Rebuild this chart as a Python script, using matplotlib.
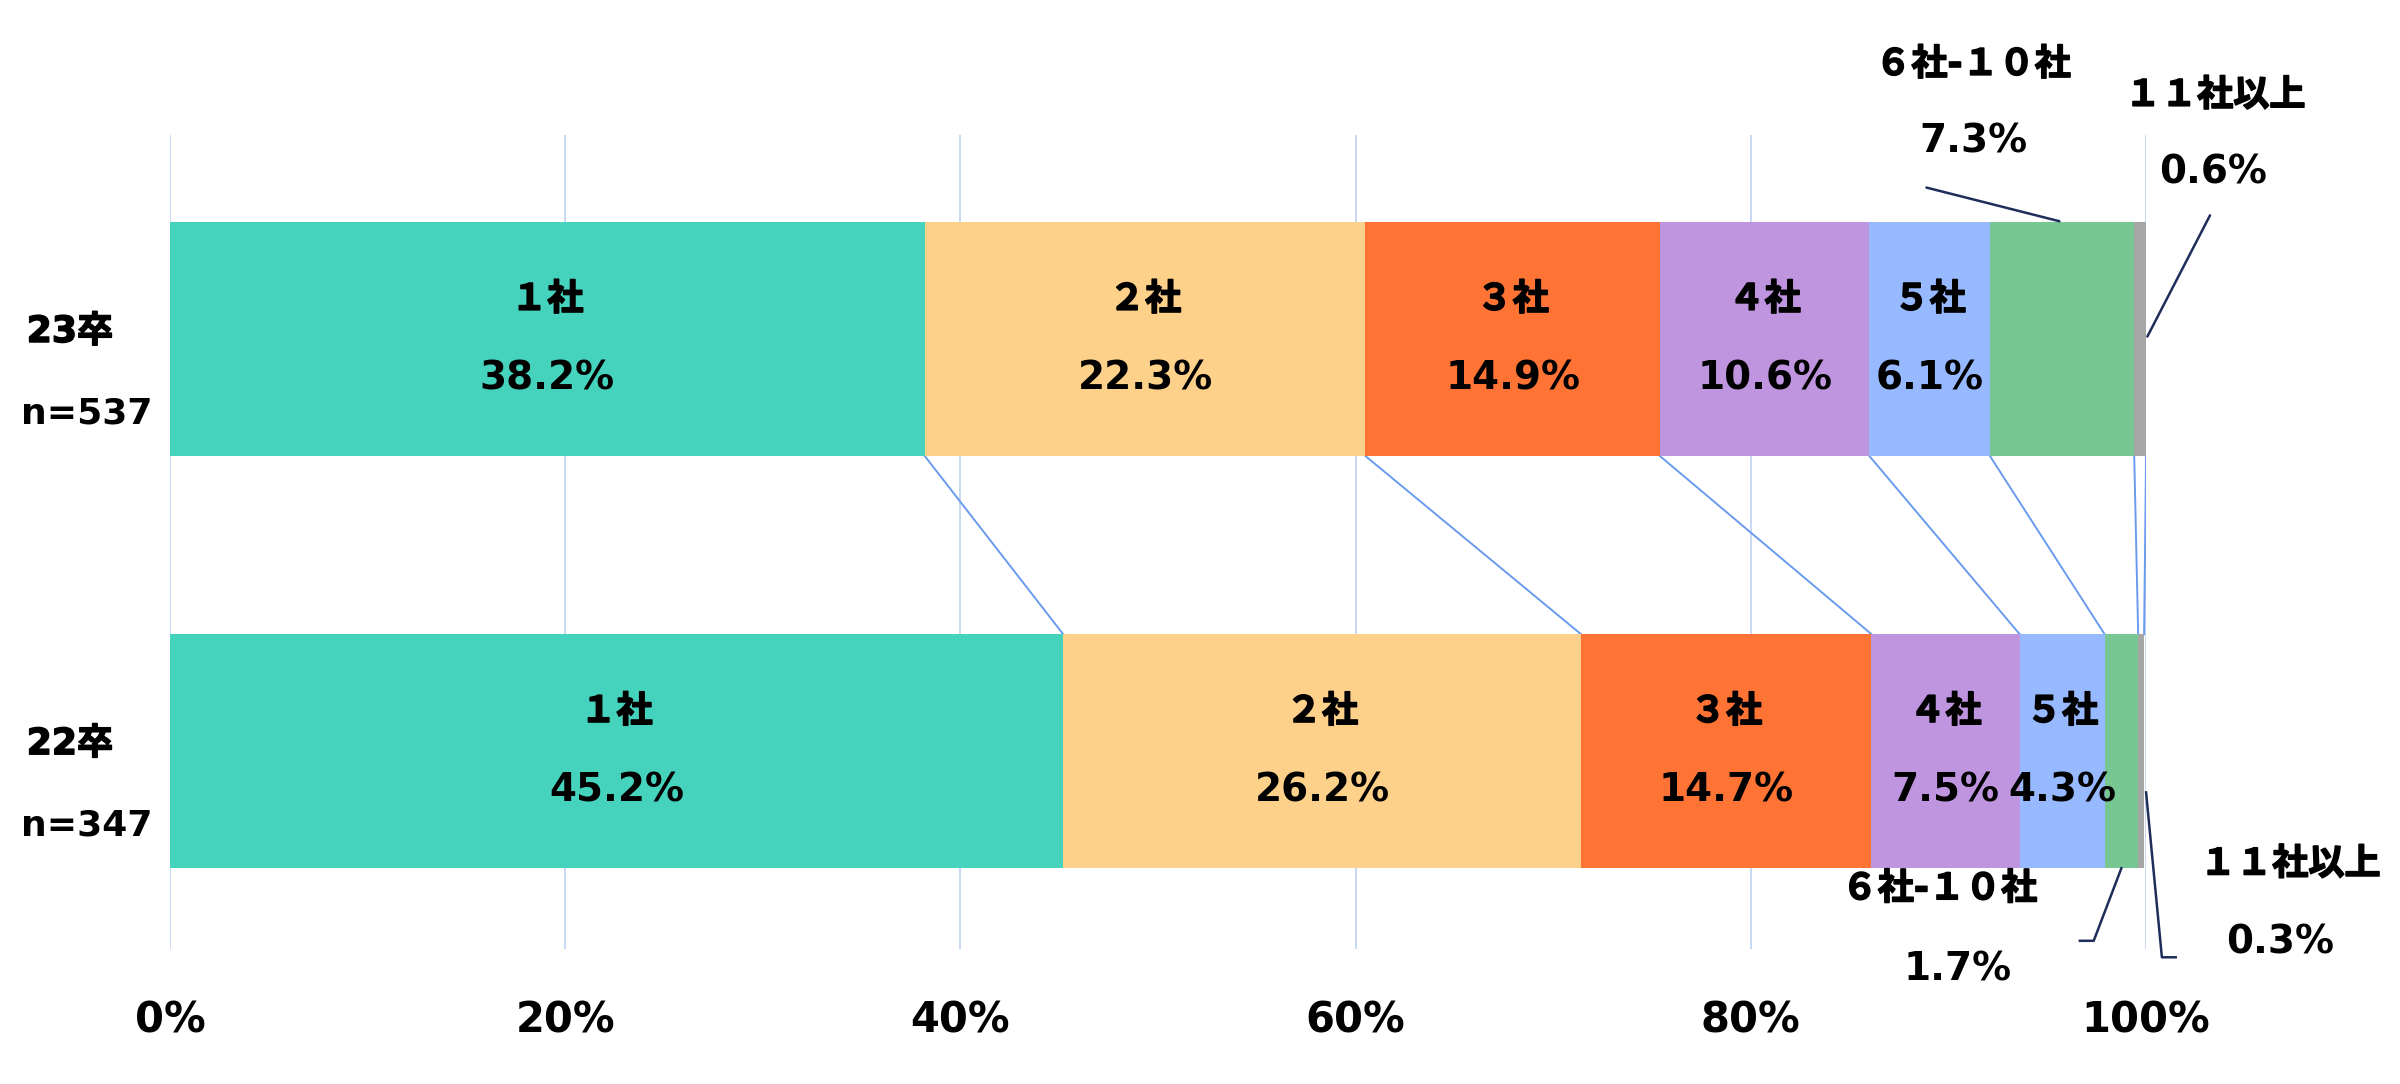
import numpy as np
import matplotlib
matplotlib.use("Agg")
import matplotlib.pyplot as plt
import matplotlib.patheffects as pe

plt.rcParams['font.family'] = ['DejaVu Sans', 'Noto Sans CJK JP']
plt.rcParams['font.weight'] = 'bold'

# data
groups = ['23卒', '22卒']
n_labels = ['n=537', 'n=347']
categories = ['１社', '２社', '３社', '４社', '５社', '６社-１０社', '１１社以上']
vals_23 = [38.2, 22.3, 14.9, 10.6, 6.1, 7.3, 0.6]
vals_22 = [45.2, 26.2, 14.7, 7.5, 4.3, 1.7, 0.3]
colors = ['#45D3BE', '#FDD18A', '#FF7335', '#BF95DF', '#97B9FF', '#77C793', '#A6A6A6']
ticks = [0, 20, 40, 60, 80, 100]

fig = plt.figure(figsize=(24, 10.84), dpi=100)
ax = fig.add_axes([0.0708, 0.1245, 0.8234, 0.751])

ypos = [1, 0]
h = 0.568
data = [vals_23, vals_22]
NAME_FS = 26
VAL_FS = 28
thick = [pe.withStroke(linewidth=1.1, foreground='black')]

for y, vals in zip(ypos, data):
    left = 0
    for i, v in enumerate(vals):
        ax.barh(y, v, left=left, height=h, color=colors[i], zorder=3)
        if i < 5:
            ax.text(left + v / 2, y + 0.095, categories[i], ha='center', va='center',
                    fontsize=NAME_FS, fontweight='bold', zorder=5, path_effects=thick)
            ax.text(left + v / 2, y - 0.095, f'{v}%', ha='center', va='center',
                    fontsize=VAL_FS, fontweight='bold', zorder=5)
        left += v

# series connector lines
cum23 = np.cumsum(vals_23)
cum22 = np.cumsum(vals_22)
for a, b in zip(cum23, cum22):
    ax.plot([a, b], [1 - h / 2, 0 + h / 2], color='#6A9BEF', lw=1.4, zorder=2)

# grid
for t in ticks:
    ax.axvline(t, color='#C5D6F2', lw=1.3, zorder=1)

ax.set_xlim(0, 100)
ax.set_ylim(-0.48, 1.495)
ax.set_xticks(ticks)
ax.set_xticklabels([f'{t}%' for t in ticks], fontsize=30, fontweight='bold')
ax.tick_params(axis='x', length=0, pad=36)
ax.set_yticks([])
for s in ax.spines.values():
    s.set_visible(False)

# group labels
for y, g, n in zip(ypos, groups, n_labels):
    ax.text(-0.0506, y + 0.017, g, transform=ax.get_yaxis_transform(), ha='center',
            va='center', fontsize=26, fontweight='bold', path_effects=thick)
    ax.text(-0.042, y - 0.18, n, transform=ax.get_yaxis_transform(), ha='center',
            va='center', fontsize=26, fontweight='bold')

# outside labels, 23卒
navy = '#1F2D5A'
c6_23 = cum23[4] + vals_23[5] / 2
ax.text(c6_23 - 4.5, 1.665, categories[5], ha='center', va='center', fontsize=NAME_FS,
        clip_on=False, path_effects=thick)
ax.text(c6_23 - 4.5, 1.48, f'{vals_23[5]}%', ha='center', va='center', fontsize=VAL_FS, clip_on=False)
ax.annotate('', xy=(c6_23, 1 + h / 2), xytext=(c6_23 - 7, 1 + h / 2 + 0.085),
            arrowprops=dict(arrowstyle='-', color=navy, lw=1.8), annotation_clip=False)

c11_23 = cum23[6]
ax.text(c11_23 + 3.5, 1.59, categories[6], ha='center', va='center', fontsize=NAME_FS,
        clip_on=False, path_effects=thick)
ax.text(c11_23 + 3.4, 1.405, f'{vals_23[6]}%', ha='center', va='center', fontsize=VAL_FS, clip_on=False)
ax.annotate('', xy=(c11_23, 1), xytext=(c11_23 + 3.3, 1 + 0.306),
            arrowprops=dict(arrowstyle='-', color=navy, lw=1.8), annotation_clip=False)

# outside labels, 22卒
c6_22 = cum22[4] + vals_22[5] / 2
ax.text(c6_22 - 9.2, -0.335, categories[5], ha='center', va='center', fontsize=NAME_FS,
        clip_on=False, path_effects=thick)
ax.text(c6_22 - 8.3, -0.53, f'{vals_22[5]}%', ha='center', va='center', fontsize=VAL_FS, clip_on=False)
ax.plot([c6_22, c6_22 - 1.4, c6_22 - 2.1], [-h / 2, -0.46, -0.46], color=navy, lw=1.8,
        clip_on=False, zorder=4)

c11_22 = cum22[6]
ax.text(c11_22 + 7.4, -0.275, categories[6], ha='center', va='center', fontsize=NAME_FS,
        clip_on=False, path_effects=thick)
ax.text(c11_22 + 6.9, -0.465, f'{vals_22[6]}%', ha='center', va='center', fontsize=VAL_FS, clip_on=False)
ax.plot([c11_22 + 0.1, c11_22 + 0.9, c11_22 + 1.6], [-0.1, -0.5, -0.5], color=navy, lw=1.8,
        clip_on=False, zorder=4)

plt.savefig('out.png', dpi=100)
